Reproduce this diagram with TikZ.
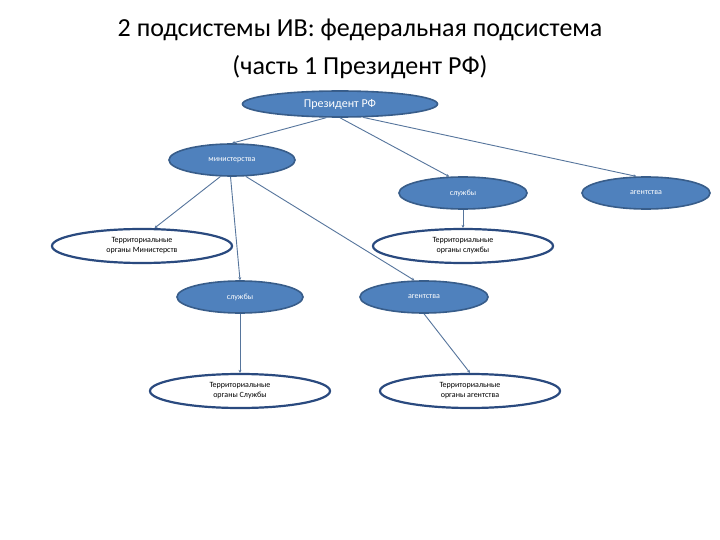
\documentclass[tikz,border=0pt]{standalone}
\usepackage{fontspec}
\setmainfont{Carlito}
\usetikzlibrary{shapes.geometric,arrows.meta}
\definecolor{bfill}{HTML}{4F81BD}
\definecolor{bline}{HTML}{385D8A}
\definecolor{dline}{HTML}{2A4A7F}
\begin{document}
\begin{tikzpicture}[x=1pt,y=-1pt,
  bnode/.style={ellipse,draw=bline,line width=1.6pt,fill=bfill,text=white,inner sep=0pt,font=\fontsize{8}{9}\selectfont},
  wnode/.style={ellipse,draw=dline,line width=2.2pt,fill=white,text=black,inner sep=0pt,align=center,minimum width=180pt,minimum height=34pt,font=\fontsize{8}{10}\selectfont},
  conn/.style={draw=bline!85,line width=0.9pt,-{Stealth[length=3pt,width=3pt]}}]
\useasboundingbox (0,0) rectangle (720,540);
\fill[white] (0,0) rectangle (720,540);
\node (title) at (360,49) [align=center,font=\fontsize{26}{38}\selectfont] {2 подсистемы ИВ: федеральная подсистема\\(часть 1 Президент РФ)};
\node[bnode,minimum width=195pt,minimum height=26pt,font=\fontsize{12}{14}\selectfont] (pres) at (340,104) {Президент РФ};
\node[bnode,minimum width=126pt,minimum height=32pt] (min) at (232,160) {министерства};
\node[bnode,minimum width=128pt,minimum height=32pt] (sr) at (463,193) {службы};
\node[bnode,minimum width=128pt,minimum height=32pt] (ar) at (646,193) {агентства};
\node[wnode] (tm) at (142,246) {Территориальные\\органы Министерств};
\node[wnode] (ts) at (463,246) {Территориальные\\органы службы};
\node[bnode,minimum width=126pt,minimum height=32pt] (sl) at (240,297) {службы};
\node[bnode,minimum width=128pt,minimum height=32pt] (am) at (424,297) {агентства};
\node[wnode] (tsl) at (240,391) {Территориальные\\органы Службы};
\node[wnode] (ta) at (470,391) {Территориальные\\органы агентства};
\draw[conn] (pres.225) -- (min.north);
\draw[conn] (pres.south) -- (sr.130);
\draw[conn] (pres.330) -- (ar.120);
\draw[conn] (min.235) -- (tm.55);
\draw[conn] (min.265) -- (sl.north);
\draw[conn] (min.310) -- (am.120);
\draw[conn] (sr.south) -- (ts.north);
\draw[conn] (sl.south) -- (tsl.north);
\draw[conn] (am.south) -- (ta.north);
\end{tikzpicture}
\end{document}
